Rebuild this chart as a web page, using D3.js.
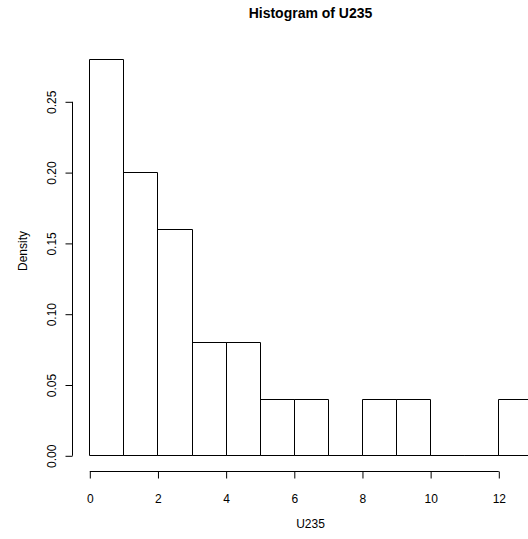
<!DOCTYPE html>
<html><head><meta charset="utf-8">
<script src="https://cdn.jsdelivr.net/npm/d3@7"></script>
<style>body{margin:0;background:#fff}svg{display:block}</style>
</head><body><svg id="c" width="528" height="539"></svg>
<script>
const breaks = [0,1,2,3,4,5,6,7,8,9,10,11,12,13];
const density = [0.28,0.20,0.16,0.08,0.08,0.04,0.04,0,0.04,0.04,0,0,0.04];
const xTicks = [0,2,4,6,8,10,12];
const yTicks = [0,0.05,0.10,0.15,0.20,0.25];
const title = "Histogram of U235", xLab = "U235", yLab = "Density";

const svg = d3.select("#c");
const font = "Liberation Sans, Arial, Helvetica, sans-serif";
const x = d3.scaleLinear().domain([0,12]).range([89.3,498.3]);
const y = d3.scaleLinear().domain([0,0.25]).range([455.3,101.3]);

const bins = density.map((d,i)=>({x0:breaks[i],x1:breaks[i+1],d}));
svg.append("g").selectAll("path").data(bins).join("path")
  .attr("d",b=>{
    const x0=Math.round(x(b.x0))+0.5, x1=Math.round(x(b.x1))+0.5;
    const y0=Math.round(y(0))+0.5, y1=Math.round(y(b.d))+0.5;
    return `M${x0},${y0}H${x1}V${y1}H${x0}Z`;
  })
  .attr("fill","none").attr("stroke","#000").attr("stroke-width",1);

const xa = svg.append("g").attr("transform","translate(0.5,471.5)")
  .call(d3.axisBottom(x).tickValues(xTicks).tickSize(7).tickPadding(16).tickFormat(d3.format("d")));
const ya = svg.append("g").attr("transform","translate(72.5,0.5)")
  .call(d3.axisLeft(y).tickValues(yTicks).tickSize(7).tickPadding(0).tickFormat(d3.format(".2f")));
[xa,ya].forEach(a=>{a.selectAll("path,line").attr("stroke","#000");a.selectAll("text").attr("font-family",font).attr("font-size",12).attr("fill","#000");});
xa.select("path").attr("d",`M${x(0)},0H${x(12)}`);
ya.select("path").attr("d",`M0,${y(0)}V${y(0.25)}`);
ya.selectAll(".tick text").attr("transform","rotate(-90)").attr("x",0).attr("y",-16.5).attr("dy","0").attr("text-anchor","middle");

svg.append("text").attr("x",310.5).attr("y",18).attr("text-anchor","middle")
  .attr("font-family",font).attr("font-weight","bold").attr("font-size",14).text(title);
svg.append("text").attr("x",310.5).attr("y",528.3).attr("text-anchor","middle")
  .attr("font-family",font).attr("font-size",12).text(xLab);
svg.append("text").attr("transform","translate(27,251) rotate(-90)").attr("text-anchor","middle")
  .attr("font-family",font).attr("font-size",12).text(yLab);
</script></body></html>
